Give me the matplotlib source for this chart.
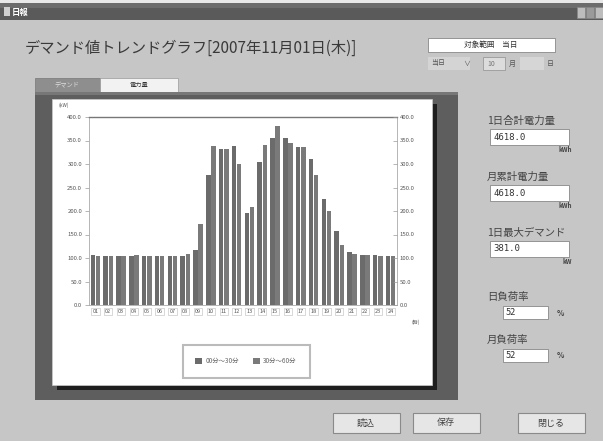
import matplotlib
matplotlib.use('Agg')
import matplotlib.pyplot as plt
from matplotlib.patches import Rectangle
import numpy as np

plt.rcParams['font.family'] = ['Noto Sans CJK JP', 'DejaVu Sans']

# data (kW per half hour)
hours = ['01', '02', '03', '04', '05', '06', '07', '08', '09', '10', '11', '12',
         '13', '14', '15', '16', '17', '18', '19', '20', '21', '22', '23', '24']
first_half = [106, 104, 104, 104, 104, 105, 104, 104, 118, 276, 331, 338,
              195, 305, 355, 355, 337, 311, 226, 158, 113, 106, 106, 104]
second_half = [104, 104, 104, 106, 104, 104, 104, 108, 172, 338, 331, 301,
               209, 340, 381, 344, 337, 277, 201, 127, 108, 106, 104, 104]
y_ticks = [0, 50, 100, 150, 200, 250, 300, 350, 400]
legend_labels = ['00分～30分', '30分～60分']

W, H = 603, 441
fig = plt.figure(figsize=(W / 100, H / 100), dpi=100)
fig.patch.set_facecolor('#c6c6c6')


def rect(x, y, w, h, **kw):
    kw.setdefault('zorder', -1)
    fig.add_artist(Rectangle((x / W, 1 - (y + h) / H), w / W, h / H,
                             transform=fig.transFigure, **kw))


def text(x, y, s, **kw):
    fig.text(x / W, 1 - y / H, s, **kw)


# window title bar
rect(0, 0, W, 3, facecolor='#e8e8e8', edgecolor='none')
rect(0, 3, W, 17, facecolor='#5a5a5a', edgecolor='none')
rect(0, 3, W, 5, facecolor='#6c6c6c', edgecolor='none')
rect(4, 7, 6, 9, facecolor='#d0d0d0', edgecolor='none')
text(12, 12, '日報', fontsize=6, color='white', va='center', weight='bold')
for bx, bc in [(577, '#bdbdbd'), (586, '#9a9a9a'), (595, '#bdbdbd')]:
    rect(bx, 7, 8, 11, facecolor=bc, edgecolor='#888888', lw=0.5)

# heading
text(25, 48, 'デマンド値トレンドグラフ[2007年11月01日(木)]', fontsize=11,
     color='#3a3a3a', va='center')

# range selector
rect(428, 38, 127, 14, facecolor='white', edgecolor='#888888', lw=0.6)
text(491, 45, '対象範囲　当日', fontsize=5.5, color='#333333', ha='center', va='center')
rect(428, 57, 42, 13, facecolor='#d4d4d4', edgecolor='none')
text(431, 63.5, '当日', fontsize=5, color='#555555', va='center')
text(463, 63.5, '∨', fontsize=5, color='#555555', va='center')
rect(483, 57, 22, 13, facecolor='#dcdcdc', edgecolor='#999999', lw=0.6)
text(487, 63.5, '10', fontsize=5, color='#777777', va='center')
text(509, 63.5, '月', fontsize=5, color='#555555', va='center')
rect(520, 57, 24, 13, facecolor='#d6d6d6', edgecolor='none')
text(547, 63.5, '日', fontsize=5, color='#555555', va='center')

# tabs and chart frame
rect(35, 78, 65, 14, facecolor='#8e8e8e', edgecolor='#777777', lw=0.5)
text(67, 85, 'デマンド', fontsize=4.5, color='#dddddd', ha='center', va='center')
rect(100, 78, 78, 14, facecolor='#f2f2f2', edgecolor='#999999', lw=0.5)
text(139, 85, '電力量', fontsize=4.5, color='#333333', ha='center', va='center')
rect(35, 92, 423, 308, facecolor='#5e5e5e', edgecolor='none')
rect(35, 92, 423, 3, facecolor='#777777', edgecolor='none')
rect(57, 104, 380, 286, facecolor='#1e1e1e', edgecolor='none')
rect(52, 99, 380, 286, facecolor='white', edgecolor='#cccccc', lw=0.5)
text(58, 105, '(kW)', fontsize=3.5, color='#555555', va='center')
text(412, 322, '(時)', fontsize=3.5, color='#555555', va='center')

# chart
ax = fig.add_axes([89 / W, 1 - 305 / H, (397 - 89) / W, (305 - 117) / H])
ax.set_facecolor('white')
x = np.arange(1, len(hours) + 1)
ax.bar(x - 0.2, first_half, width=0.36, color='#6b6b6b', label=legend_labels[0])
ax.bar(x + 0.2, second_half, width=0.36, color='#7a7a7a', label=legend_labels[1])
ax.set_xlim(0.5, 24.5)
ax.set_ylim(0, 400)
ax.set_yticks(y_ticks)
ax.set_yticklabels([f'{v:.1f}' for v in y_ticks], fontsize=4.3, color='#555555')
ax.set_xticks(x)
ax.set_xticklabels(hours, fontsize=4, color='#555555')
for lbl in ax.get_xticklabels():
    lbl.set_bbox(dict(facecolor='white', edgecolor='#bbbbbb', lw=0.4, pad=0.8))
ax.tick_params(axis='x', length=0, pad=3)
ax.tick_params(axis='y', length=3, width=0.5, color='#999999', pad=2)
for s in ['left', 'right', 'bottom']:
    ax.spines[s].set_color('#aaaaaa')
    ax.spines[s].set_linewidth(0.6)
ax.spines['top'].set_color('#777777')
ax.spines['top'].set_linewidth(1.0)

ax2 = ax.twinx()
ax2.set_ylim(0, 400)
ax2.set_yticks(y_ticks)
ax2.set_yticklabels([f'{v:.1f}' for v in y_ticks], fontsize=4.3, color='#555555')
ax2.tick_params(axis='y', length=3, width=0.5, color='#999999', pad=2, direction='in')
for s in ax2.spines.values():
    s.set_visible(False)

leg = ax.legend(loc='upper center', bbox_to_anchor=(0.51, -0.2), ncol=2, fontsize=4.6,
                frameon=True, fancybox=False, edgecolor='#aaaaaa',
                handlelength=1.1, handleheight=1.1, borderpad=2.0, columnspacing=2.2,
                handletextpad=0.5, borderaxespad=0.3)
leg.get_frame().set_linewidth(1.5)
for t in leg.get_texts():
    t.set_color('#666666')

# right side readouts
fields = [
    ('1日合計電力量', '4618.0', 'kWh', 121),
    ('月累計電力量', '4618.0', 'kWh', 177),
    ('1日最大デマンド', '381.0', 'kW', 233),
]
for lab, val, unit, yy in fields:
    text(487, yy, lab, fontsize=7.5, color='#444444', va='center')
    rect(490, yy + 8, 79, 16, facecolor='white', edgecolor='#888888', lw=0.6)
    text(493, yy + 16, val, fontsize=6.5, color='#333333', va='center', family='DejaVu Sans Mono')
    text(572, yy + 29, unit, fontsize=4.5, color='#444444', ha='right', va='center',
         weight='bold')

for lab, val, yy in [('日負荷率', '52', 297), ('月負荷率', '52', 340)]:
    text(487, yy, lab, fontsize=7.5, color='#444444', va='center')
    rect(503, yy + 9, 45, 13, facecolor='white', edgecolor='#888888', lw=0.6)
    text(506, yy + 15.5, val, fontsize=6.5, color='#333333', va='center')
    text(557, yy + 16, '%', fontsize=5.5, color='#444444', va='center', weight='bold')

# buttons
for bx, lab in [(333, '読込'), (413, '保存'), (518, '閉じる')]:
    rect(bx, 413, 67, 20, facecolor='#e6e6e6', edgecolor='#8a8a8a', lw=0.8)
    text(bx + 33, 423, lab, fontsize=6.5, color='#444444', ha='center', va='center')

fig.savefig('out.png', dpi=100, facecolor=fig.get_facecolor())
